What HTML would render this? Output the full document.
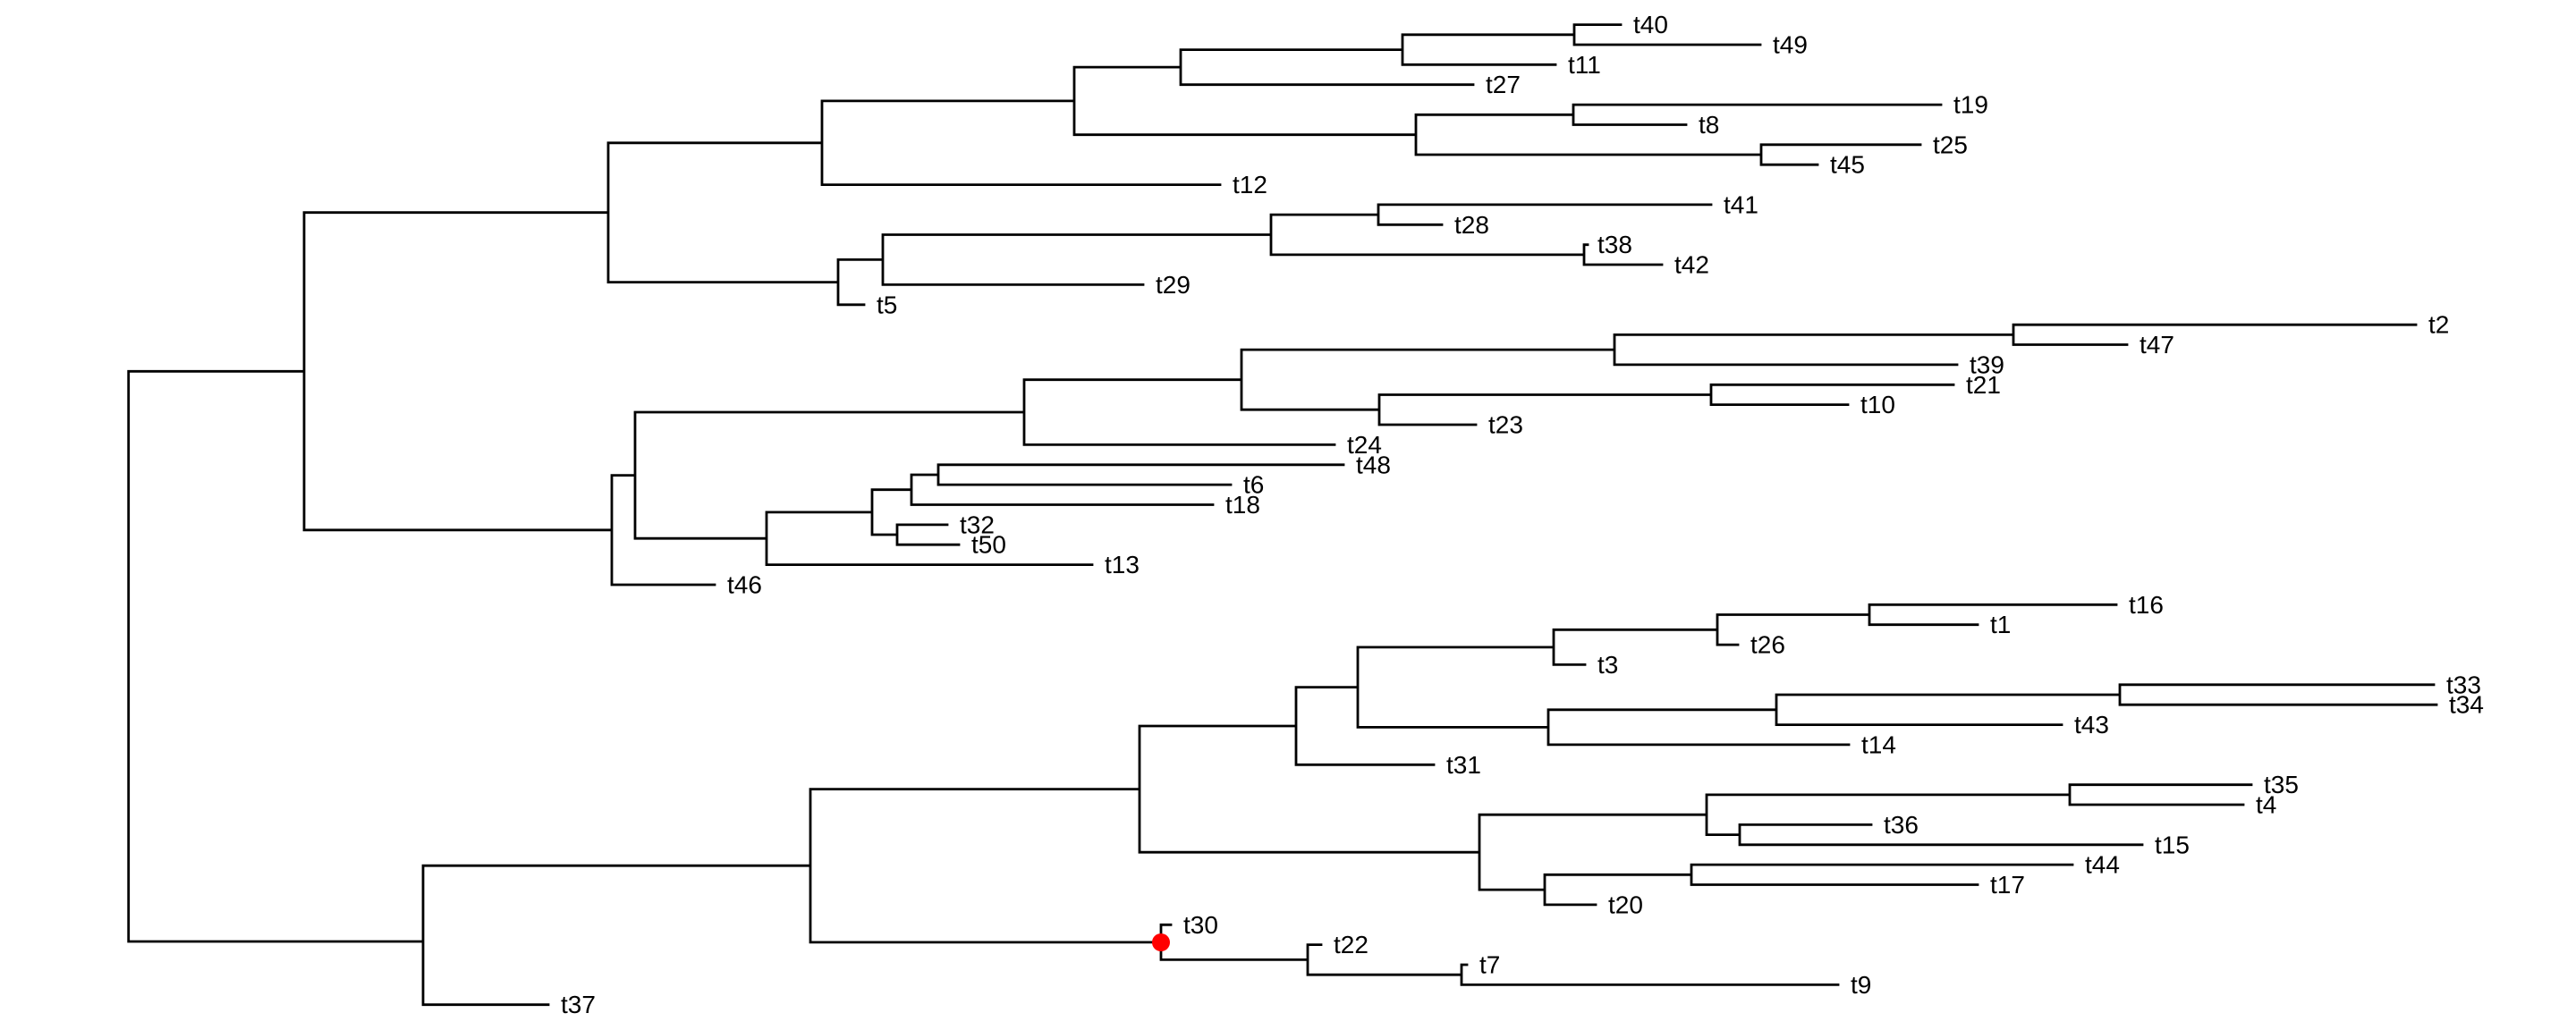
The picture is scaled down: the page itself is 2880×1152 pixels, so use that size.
<!DOCTYPE html>
<html><head><meta charset="utf-8"><style>
html,body{margin:0;padding:0;background:#fff;}
svg{display:block;}
text{font-family:"Liberation Sans",Arial,sans-serif;font-size:28px;fill:#000;dominant-baseline:central;}
</style></head><body>
<svg width="2880" height="1152" viewBox="0 0 2880 1152" xmlns="http://www.w3.org/2000/svg">
<path fill="none" stroke="#000" stroke-width="2.8" stroke-linecap="square" d="
M143.7 415.3V1053 M143.7 415.3H340 M143.7 1053H473
M340 237.7V592.8 M340 237.7H680 M340 592.8H684
M680 159.8V315.6 M680 159.8H919 M680 315.6H937
M919 112.9V206.6 M919 112.9H1201 M919 206.6H1364
M1201 75.1V150.7 M1201 75.1H1320 M1201 150.7H1583
M1320 55.6V94.7 M1320 55.6H1568 M1320 94.7H1647
M1568 38.8V72.3 M1568 38.8H1760 M1568 72.3H1739
M1760 27.6V50 M1760 27.6H1812 M1760 50H1968
M1583 128.3V173 M1583 128.3H1759 M1583 173H1969
M1759 117.1V139.5 M1759 117.1H2170 M1759 139.5H1885
M1969 161.8V184.2 M1969 161.8H2147 M1969 184.2H2032
M937 290.4V340.8 M937 290.4H987 M937 340.8H966
M987 262.5V318.4 M987 262.5H1421 M987 318.4H1278
M1421 240.1V284.9 M1421 240.1H1541 M1421 284.9H1771
M1541 228.9V251.3 M1541 228.9H1913 M1541 251.3H1612
M1771 273.7V296 M1771 273.7H1775 M1771 296H1858
M684 531.6V654 M684 531.6H710 M684 654H799
M710 461V602.2 M710 461H1145 M710 602.2H857
M1145 424.7V497.4 M1145 424.7H1388 M1145 497.4H1492
M1388 391.1V458.2 M1388 391.1H1805 M1388 458.2H1542
M1805 374.4V407.9 M1805 374.4H2251 M1805 407.9H2188
M2251 363.2V385.5 M2251 363.2H2701 M2251 385.5H2378
M1542 441.5V475 M1542 441.5H1913 M1542 475H1650
M1913 430.3V452.6 M1913 430.3H2184 M1913 452.6H2066
M857 572.9V631.6 M857 572.9H975 M857 631.6H1221
M975 547.7V598 M975 547.7H1019 M975 598H1003
M1019 531V564.5 M1019 531H1049 M1019 564.5H1356
M1049 519.8V542.1 M1049 519.8H1502 M1049 542.1H1376
M1003 586.9V609.2 M1003 586.9H1059 M1003 609.2H1072
M473 968.2V1123.7 M473 968.2H906 M473 1123.7H613
M906 882.6V1053.9 M906 882.6H1274 M906 1053.9H1298
M1274 812V953.2 M1274 812H1449 M1274 953.2H1654
M1449 768.6V855.3 M1449 768.6H1518 M1449 855.3H1603
M1518 723.9V813.4 M1518 723.9H1737 M1518 813.4H1731
M1737 704.3V743.4 M1737 704.3H1920 M1737 743.4H1772
M1920 687.5V721.1 M1920 687.5H2090 M1920 721.1H1943
M2090 676.3V698.7 M2090 676.3H2366 M2090 698.7H2211
M1731 793.8V832.9 M1731 793.8H1986 M1731 832.9H2067
M1986 777V810.6 M1986 777H2370 M1986 810.6H2305
M2370 765.8V788.2 M2370 765.8H2721 M2370 788.2H2724
M1654 911.2V995.1 M1654 911.2H1908 M1654 995.1H1727
M1908 888.9V933.6 M1908 888.9H2314 M1908 933.6H1945
M2314 877.7V900 M2314 877.7H2517 M2314 900H2508
M1945 922.4V944.8 M1945 922.4H2092 M1945 944.8H2395
M1727 978.3V1011.9 M1727 978.3H1891 M1727 1011.9H1784
M1891 967.1V989.5 M1891 967.1H2317 M1891 989.5H2211
M1298 1034.3V1073.4 M1298 1034.3H1309 M1298 1073.4H1462
M1462 1056.6V1090.2 M1462 1056.6H1477 M1462 1090.2H1634
M1634 1079V1101.4 M1634 1079H1640 M1634 1101.4H2055
"/>
<circle cx="1298" cy="1054" r="10" fill="#ff0000"/>
<text x="1826" y="27.6">t40</text>
<text x="1982" y="50">t49</text>
<text x="1753" y="72.3">t11</text>
<text x="1661" y="94.7">t27</text>
<text x="2184" y="117.1">t19</text>
<text x="1899" y="139.5">t8</text>
<text x="2161" y="161.8">t25</text>
<text x="2046" y="184.2">t45</text>
<text x="1378" y="206.6">t12</text>
<text x="1927" y="228.9">t41</text>
<text x="1626" y="251.3">t28</text>
<text x="1786" y="273.7">t38</text>
<text x="1872" y="296">t42</text>
<text x="1292" y="318.4">t29</text>
<text x="980" y="340.8">t5</text>
<text x="2715" y="363.2">t2</text>
<text x="2392" y="385.5">t47</text>
<text x="2202" y="407.9">t39</text>
<text x="2198" y="430.3">t21</text>
<text x="2080" y="452.6">t10</text>
<text x="1664" y="475">t23</text>
<text x="1506" y="497.4">t24</text>
<text x="1516" y="519.8">t48</text>
<text x="1390" y="542.1">t6</text>
<text x="1370" y="564.5">t18</text>
<text x="1073" y="586.9">t32</text>
<text x="1086" y="609.2">t50</text>
<text x="1235" y="631.6">t13</text>
<text x="813" y="654">t46</text>
<text x="2380" y="676.3">t16</text>
<text x="2225" y="698.7">t1</text>
<text x="1957" y="721.1">t26</text>
<text x="1786" y="743.4">t3</text>
<text x="2735" y="765.8">t33</text>
<text x="2738" y="788.2">t34</text>
<text x="2319" y="810.6">t43</text>
<text x="2081" y="832.9">t14</text>
<text x="1617" y="855.3">t31</text>
<text x="2531" y="877.7">t35</text>
<text x="2522" y="900">t4</text>
<text x="2106" y="922.4">t36</text>
<text x="2409" y="944.8">t15</text>
<text x="2331" y="967.1">t44</text>
<text x="2225" y="989.5">t17</text>
<text x="1798" y="1011.9">t20</text>
<text x="1323" y="1034.3">t30</text>
<text x="1491" y="1056.6">t22</text>
<text x="1654" y="1079">t7</text>
<text x="2069" y="1101.4">t9</text>
<text x="627" y="1123.7">t37</text>
</svg>
</body></html>
